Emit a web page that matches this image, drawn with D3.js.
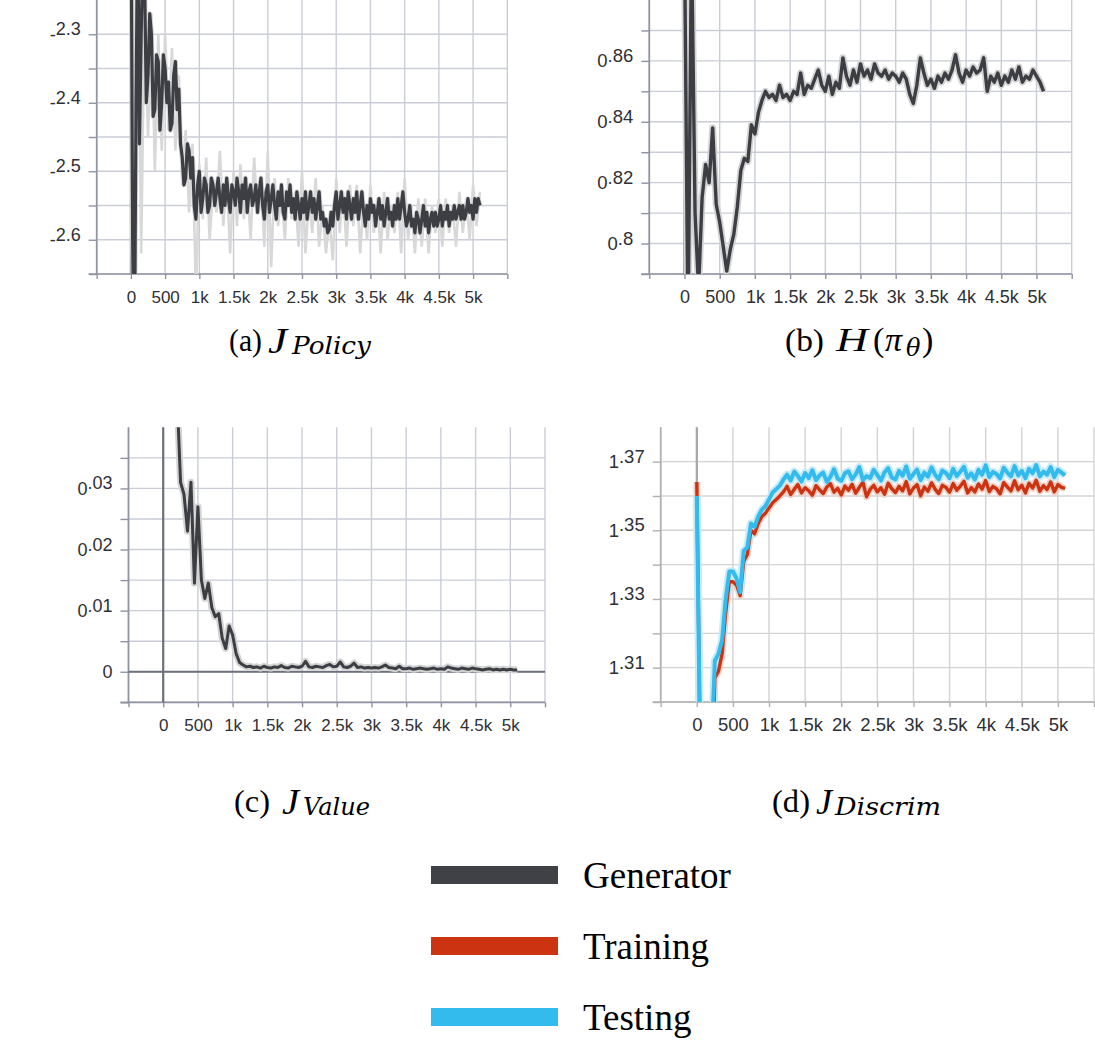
<!DOCTYPE html>
<html>
<head>
<meta charset="utf-8">
<script src="https://cdn.jsdelivr.net/npm/d3@7"></script>
<style>
    body { margin: 0; background: #fff; }
    svg { display: block; }
    .tick-label { font-family: "Liberation Sans", Arial, sans-serif; fill: #2f3035; }
    .serif { font-family: "Liberation Serif", "Times New Roman", serif; fill: #000; }
    .math-sub { font-family: "DejaVu Serif", serif; font-style: italic; fill: #000; }
</style>
</head>
<body>
<svg id="chart" width="1095" height="1062"></svg>
<script>
// training steps: most curves sampled every 50 steps, the policy loss every 25
var steps50 = d3.range(0, 5101, 50);
var steps25 = d3.range(0, 5101, 25);

var xTicks = [-500, 0, 500, 1000, 1500, 2000, 2500, 3000, 3500, 4000, 4500, 5000, 5500];
var xTickLabels = ['', '0', '500', '1k', '1.5k', '2k', '2.5k', '3k', '3.5k', '4k', '4.5k', '5k', ''];

// (a) J_Policy
var yTicksA = [-2.65, -2.6, -2.55, -2.5, -2.45, -2.4, -2.35, -2.3];
var yLabelsA = ['', '-2.6', '', '-2.5', '', '-2.4', '', '-2.3'];
var policySmooth = [
    -2.05, -2.60, -2.80, -2.40, -2.12, -2.46, -2.30, -2.18, -2.22, -2.40, -2.36, -2.27, -2.30, -2.42, -2.41, -2.33, -2.34, -2.44, -2.40, -2.33,
    -2.35, -2.40, -2.37, -2.44, -2.43, -2.36, -2.34, -2.41, -2.38, -2.46, -2.48, -2.52, -2.51, -2.46, -2.47, -2.51, -2.48, -2.55, -2.57, -2.52,
    -2.50, -2.56, -2.54, -2.51, -2.52, -2.56, -2.55, -2.51, -2.52, -2.55, -2.53, -2.51, -2.54, -2.56, -2.52, -2.55, -2.51, -2.54, -2.56, -2.52,
    -2.53, -2.55, -2.51, -2.53, -2.56, -2.52, -2.54, -2.51, -2.56, -2.53, -2.52, -2.55, -2.54, -2.52, -2.56, -2.53, -2.51, -2.55, -2.57, -2.53,
    -2.52, -2.56, -2.54, -2.52, -2.55, -2.57, -2.53, -2.55, -2.52, -2.56, -2.57, -2.53, -2.55, -2.52, -2.56, -2.54, -2.57, -2.53, -2.55, -2.57,
    -2.54, -2.56, -2.53, -2.57, -2.55, -2.53, -2.56, -2.54, -2.57, -2.55, -2.53, -2.57, -2.56, -2.58, -2.57, -2.59, -2.585, -2.56, -2.58, -2.55,
    -2.53, -2.57, -2.55, -2.53, -2.56, -2.54, -2.57, -2.53, -2.55, -2.57, -2.54, -2.56, -2.53, -2.57, -2.55, -2.53, -2.56, -2.58, -2.55, -2.57,
    -2.54, -2.56, -2.55, -2.58, -2.56, -2.54, -2.57, -2.55, -2.58, -2.56, -2.54, -2.57, -2.56, -2.58, -2.55, -2.57, -2.54, -2.57, -2.55, -2.53,
    -2.56, -2.58, -2.57, -2.55, -2.58, -2.57, -2.59, -2.56, -2.57, -2.59, -2.57, -2.55, -2.58, -2.56, -2.59, -2.57, -2.56, -2.58, -2.56, -2.58,
    -2.57, -2.55, -2.58, -2.56, -2.57, -2.55, -2.58, -2.56, -2.57, -2.55, -2.57, -2.56, -2.55, -2.57, -2.55, -2.57, -2.56, -2.54, -2.56, -2.55,
    -2.57, -2.54, -2.56, -2.54, -2.55
];
var policyRaw = [
    -2.05, -2.80, -2.10, -2.62, -2.25, -2.45, -2.27, -2.50, -2.30, -2.47,
    -2.30, -2.44, -2.32, -2.47, -2.36, -2.52, -2.44, -2.56, -2.46, -2.68,
    -2.49, -2.57, -2.48, -2.60, -2.52, -2.56, -2.47, -2.58, -2.51, -2.62,
    -2.50, -2.58, -2.49, -2.57, -2.52, -2.60, -2.48, -2.56, -2.51, -2.61,
    -2.47, -2.64, -2.51, -2.58, -2.53, -2.60, -2.51, -2.57, -2.53, -2.61,
    -2.50, -2.62, -2.54, -2.59, -2.51, -2.61, -2.55, -2.62, -2.57, -2.63,
    -2.51, -2.59, -2.53, -2.61, -2.52, -2.58, -2.52, -2.62, -2.54, -2.60,
    -2.52, -2.59, -2.54, -2.62, -2.53, -2.60, -2.55, -2.59, -2.53, -2.62,
    -2.51, -2.60, -2.55, -2.62, -2.54, -2.61, -2.54, -2.62, -2.55, -2.59,
    -2.54, -2.61, -2.54, -2.59, -2.55, -2.61, -2.53, -2.59, -2.54, -2.60,
    -2.52, -2.58, -2.53
];

// (b) H(pi_theta)
var yTicksB = [0.79, 0.80, 0.81, 0.82, 0.83, 0.84, 0.85, 0.86, 0.87];
var yLabelsB = ['', '0.8', '', '0.82', '', '0.84', '', '0.86', ''];
var entropySmooth = [
    0.90, 0.77, 0.90, 0.81, 0.785, 0.815, 0.826, 0.820, 0.838, 0.813,
    0.807, 0.799, 0.791, 0.798, 0.803, 0.812, 0.824, 0.828, 0.827, 0.839,
    0.836, 0.843, 0.847, 0.850, 0.848, 0.849, 0.847, 0.852, 0.848, 0.849,
    0.847, 0.850, 0.849, 0.856, 0.849, 0.852, 0.851, 0.854, 0.857, 0.852,
    0.850, 0.855, 0.849, 0.853, 0.851, 0.861, 0.855, 0.852, 0.857, 0.853,
    0.859, 0.855, 0.857, 0.854, 0.859, 0.856, 0.855, 0.857, 0.854, 0.856,
    0.855, 0.853, 0.856, 0.854, 0.849, 0.846, 0.852, 0.861, 0.856, 0.852,
    0.854, 0.851, 0.855, 0.853, 0.856, 0.854, 0.857, 0.862, 0.856, 0.853,
    0.857, 0.855, 0.858, 0.856, 0.857, 0.861, 0.850, 0.855, 0.853, 0.856,
    0.852, 0.855, 0.853, 0.857, 0.854, 0.858, 0.853, 0.855, 0.854, 0.857,
    0.855, 0.853, 0.850
];

// (c) J_Value
var yTicksC = [-0.005, 0, 0.005, 0.01, 0.015, 0.02, 0.025, 0.03, 0.035];
var yLabelsC = ['', '0', '', '0.01', '', '0.02', '', '0.03', ''];
var valueSmooth = [
    0.070, 0.066, 0.060, 0.053, 0.045, 0.031, 0.029, 0.023, 0.031, 0.0145,
    0.027, 0.015, 0.012, 0.0145, 0.0105, 0.0090, 0.0095, 0.0055, 0.0038, 0.0075,
    0.0060, 0.0030, 0.0015, 0.0011, 0.0008, 0.0009, 0.0007, 0.0008, 0.0006, 0.0009,
    0.0007, 0.0006, 0.0008, 0.0007, 0.0010, 0.0007, 0.0006, 0.0009, 0.0008, 0.0007,
    0.0009, 0.0017, 0.0008, 0.0007, 0.0009, 0.0008, 0.0007, 0.0010, 0.0012, 0.0008,
    0.0009, 0.0016, 0.0008, 0.0007, 0.0009, 0.0014, 0.0007, 0.0008, 0.0006, 0.0007,
    0.0006, 0.0007, 0.0006, 0.0008, 0.0011, 0.0007, 0.0006, 0.0005, 0.0009, 0.0005,
    0.0005, 0.0006, 0.0004, 0.0005, 0.0006, 0.0005, 0.0004, 0.0005, 0.0006, 0.0004,
    0.0005, 0.0004, 0.0008, 0.0006, 0.0005, 0.0004, 0.0006, 0.0005, 0.0004, 0.0006,
    0.0005, 0.0004, 0.0003, 0.0004, 0.0005, 0.0003, 0.0004, 0.0003, 0.0004, 0.0003,
    0.0004, 0.0003, 0.0003
];

// (d) J_Discrim
var yTicksD = [1.30, 1.31, 1.32, 1.33, 1.34, 1.35, 1.36, 1.37];
var yLabelsD = ['', '1.31', '', '1.33', '', '1.35', '', '1.37'];
var discrimTraining = [
    1.3641, 1.28, 1.27, 1.27, 1.27, 1.307, 1.309, 1.314, 1.326, 1.335,
    1.335, 1.334, 1.331, 1.341, 1.343, 1.350, 1.349, 1.352, 1.354, 1.355,
    1.3565, 1.358, 1.359, 1.360,
    1.3612, 1.3628, 1.3604, 1.3620, 1.3633, 1.3609, 1.3624, 1.3615, 1.3602, 1.3630,
    1.3618, 1.3607, 1.3626, 1.3636, 1.3611, 1.3622, 1.3603, 1.3629, 1.3617, 1.3634,
    1.3608, 1.3625, 1.3640, 1.3598, 1.3619, 1.3631, 1.3612, 1.3624, 1.3605, 1.3637,
    1.3621, 1.3610, 1.3628, 1.3615, 1.3642, 1.3606, 1.3623, 1.3633, 1.3601, 1.3626,
    1.3614, 1.3638, 1.3620, 1.3607, 1.3631, 1.3625, 1.3611, 1.3636, 1.3617, 1.3629,
    1.3643, 1.3609, 1.3624, 1.3612, 1.3635, 1.3620, 1.3645, 1.3613, 1.3628, 1.3621,
    1.3606, 1.3639, 1.3626, 1.3615, 1.3644, 1.3618, 1.3631, 1.3609, 1.3637, 1.3623,
    1.3646, 1.3614, 1.3630, 1.3619, 1.3641, 1.3612, 1.3633, 1.3625, 1.3622
];
var discrimTesting = [
    1.360, 1.28, 1.27, 1.27, 1.286, 1.312, 1.314, 1.318, 1.330, 1.338,
    1.338, 1.336, 1.332, 1.344, 1.345, 1.352, 1.351, 1.354, 1.356, 1.357,
    1.359, 1.361, 1.362, 1.363,
    1.3648, 1.3662, 1.3645, 1.3671, 1.3658, 1.3642, 1.3667, 1.3652, 1.3675, 1.3646,
    1.3660, 1.3668, 1.3641, 1.3656, 1.3678, 1.3651, 1.3644, 1.3666, 1.3672, 1.3649,
    1.3663, 1.3684, 1.3647, 1.3658, 1.3652, 1.3676, 1.3661, 1.3645, 1.3669, 1.3681,
    1.3654, 1.3648, 1.3673, 1.3659, 1.3686, 1.3650, 1.3664, 1.3677, 1.3646, 1.3668,
    1.3656, 1.3683, 1.3662, 1.3649, 1.3674, 1.3667, 1.3652, 1.3679, 1.3658, 1.3671,
    1.3685, 1.3653, 1.3666, 1.3648, 1.3676, 1.3662, 1.3689, 1.3655, 1.3670, 1.3664,
    1.3651, 1.3682, 1.3668, 1.3657, 1.3687, 1.3660, 1.3673, 1.3652, 1.3679, 1.3666,
    1.3690, 1.3657, 1.3671, 1.3662, 1.3684, 1.3655, 1.3676, 1.3668, 1.3660
];

var legendNames = ['Generator', 'Training', 'Testing'];
var legendColors = ['#404146', '#cc3311', '#33bbee'];

var svg = d3.select("#chart");
var defs = svg.append("defs");

function drawPanel(p) {
    var x = d3.scaleLinear().domain([-500, 5500]).range([p.left, p.right]),
        y = d3.scaleLinear().domain(p.yDomain).range([p.bottom, p.top]);
    var g = svg.append("g");

    // grid
    g.selectAll(".vgrid").data(xTicks).enter().append("line")
        .attr("x1", function (d) { return x(d); })
        .attr("x2", function (d) { return x(d); })
        .attr("y1", p.top)
        .attr("y2", p.bottom)
        .attr("stroke", p.grid)
        .attr("stroke-width", 1.4);
    g.selectAll(".hgrid").data(p.yTicks).enter().append("line")
        .attr("x1", p.left)
        .attr("x2", p.right)
        .attr("y1", function (d) { return y(d); })
        .attr("y2", function (d) { return y(d); })
        .attr("stroke", p.grid)
        .attr("stroke-width", 1.4);

    var xAxis = d3.axisBottom(x)
        .tickValues(xTicks)
        .tickSize(5)
        .tickFormat(function (d, i) { return xTickLabels[i]; });
    var xg = g.append("g")
        .attr("transform", "translate(0," + p.bottom + ")")
        .call(xAxis);
    xg.select(".domain").remove();
    xg.selectAll("line").attr("stroke", p.axis).attr("stroke-width", 1.4);
    xg.selectAll("text")
        .attr("class", "tick-label")
        .attr("y", 29)
        .attr("dy", null)
        .style("font-size", p.xFont + "px")
        .attr("font-family", null)
        .attr("fill", null);

    var yAxis = d3.axisLeft(y).tickValues(p.yTicks).tickSize(8).tickFormat("");
    var yg = g.append("g")
        .attr("transform", "translate(" + p.left + ",0)")
        .call(yAxis);
    yg.select(".domain").remove();
    yg.selectAll("line").attr("stroke", p.axis).attr("stroke-width", 1.4);

    // tick labels: first character on the grid line, the rest raised
    p.yTicks.forEach(function (d, i) {
        var label = p.yLabels[i];
        if (!label) return;
        var t = g.append("text")
            .attr("class", "tick-label")
            .attr("text-anchor", "end")
            .attr("x", p.left - 16)
            .attr("y", y(d) + 6.5)
            .style("font-size", p.yFont + "px");
        t.append("tspan").text(label.charAt(0));
        if (label.length > 1) {
            t.append("tspan").attr("dy", -5.5).text(label.slice(1));
        }
    });

    // axis lines
    g.append("line")
        .attr("x1", p.left).attr("x2", p.left)
        .attr("y1", p.top).attr("y2", p.bottom)
        .attr("stroke", p.axis).attr("stroke-width", 1.7);
    g.append("line")
        .attr("x1", p.left - 8).attr("x2", p.right)
        .attr("y1", p.bottom).attr("y2", p.bottom)
        .attr("stroke", p.axis).attr("stroke-width", 1.7);
    g.append("line")
        .attr("x1", x(0)).attr("x2", x(0))
        .attr("y1", p.top).attr("y2", p.bottom)
        .attr("stroke", p.zero).attr("stroke-width", 2.2);
    if (p.yDomain[0] < 0 && p.yDomain[1] > 0) {
        g.append("line")
            .attr("x1", p.left).attr("x2", p.right)
            .attr("y1", y(0)).attr("y2", y(0))
            .attr("stroke", p.zero).attr("stroke-width", 2.2);
    }

    defs.append("clipPath").attr("id", "clip-" + p.id)
        .append("rect")
        .attr("x", p.left).attr("y", p.top)
        .attr("width", p.right - p.left).attr("height", p.bottom - p.top);

    function lineFor(stepList) {
        return d3.line()
            .x(function (d, i) { return x(stepList[i]); })
            .y(function (d) { return y(d); });
    }

    var plot = g.append("g").attr("clip-path", "url(#clip-" + p.id + ")");
    p.series.forEach(function (s) {
        if (s.raw) {
            plot.append("path")
                .attr("d", lineFor(steps50)(s.raw))
                .attr("stroke", s.light)
                .attr("stroke-width", 2.6)
                .attr("fill", "none");
        }
        plot.append("path")
            .attr("d", lineFor(s.steps)(s.values))
            .attr("stroke", s.light)
            .attr("stroke-width", s.halo)
            .attr("stroke-linejoin", "round")
            .attr("fill", "none");
    });
    p.series.forEach(function (s) {
        plot.append("path")
            .attr("d", lineFor(s.steps)(s.values))
            .attr("stroke", s.color)
            .attr("stroke-width", s.width)
            .attr("stroke-linejoin", "round")
            .attr("fill", "none");
    });
}

var tbGrid = "#cacdd7", tbAxis = "#8f94a3", tbZero = "#767a88";

drawPanel({
    id: "a", left: 96.7, right: 507.3, top: 0, bottom: 274,
    yDomain: [-2.65, -2.25], yTicks: yTicksA, yLabels: yLabelsA,
    grid: tbGrid, axis: tbAxis, zero: tbZero,
    xFont: 17, yFont: 18,
    series: [{ values: policySmooth, steps: steps25, raw: policyRaw, color: "#3c3e44", light: "#d8d8d8", width: 3.2, halo: 5 }]
});
drawPanel({
    id: "b", left: 649.3, right: 1071.7, top: 0, bottom: 274,
    yDomain: [0.79, 0.88], yTicks: yTicksB, yLabels: yLabelsB,
    grid: tbGrid, axis: tbAxis, zero: tbZero,
    xFont: 18, yFont: 18.5,
    series: [{ values: entropySmooth, steps: steps50, color: "#3c3e44", light: "#d4d4d4", width: 3.4, halo: 7 }]
});
drawPanel({
    id: "c", left: 128.5, right: 545, top: 427.3, bottom: 702.3,
    yDomain: [-0.005, 0.04], yTicks: yTicksC, yLabels: yLabelsC,
    grid: tbGrid, axis: tbAxis, zero: "#6c707d",
    xFont: 17, yFont: 18,
    series: [{ values: valueSmooth, steps: steps50, color: "#3c3e44", light: "#d4d4d4", width: 3, halo: 7 }]
});
drawPanel({
    id: "d", left: 660.7, right: 1094, top: 427.3, bottom: 702,
    yDomain: [1.30, 1.38], yTicks: yTicksD, yLabels: yLabelsD,
    grid: "#d3d3d3", axis: "#b0b0b0", zero: "#a6a6a6",
    xFont: 18.5, yFont: 18.5,
    series: [
        { values: discrimTraining, steps: steps50, color: "#cc3311", light: "#f2cfc4", width: 3.4, halo: 7 },
        { values: discrimTesting, steps: steps50, color: "#33bbee", light: "#c6eaf8", width: 4, halo: 8 }
    ]
});

// captions: each piece placed where it sits in the figure
function caption(parts) {
    parts.forEach(function (pt) {
        var t = svg.append("text")
            .attr("class", pt.sub ? "math-sub" : "serif")
            .attr("x", pt.x)
            .attr("y", pt.y)
            .style("font-size", pt.size + "px")
            .text(pt.text);
        if (pt.italic) t.style("font-style", "italic");
        if (pt.len) t.attr("textLength", pt.len).attr("lengthAdjust", "spacingAndGlyphs");
    });
}
caption([
    { text: "(a)", x: 229, y: 351, size: 32, len: 33 },
    { text: "J", x: 268, y: 353, size: 36, italic: true, len: 19 },
    { text: "Policy", x: 292, y: 354, size: 25, sub: true, len: 79 }
]);
caption([
    { text: "(b)", x: 785, y: 351, size: 32, len: 39 },
    { text: "H", x: 836, y: 351, size: 34, italic: true, len: 32 },
    { text: "(", x: 873, y: 351, size: 34 },
    { text: "π", x: 885, y: 351, size: 34, italic: true },
    { text: "θ", x: 906, y: 356, size: 24, sub: true },
    { text: ")", x: 922, y: 351, size: 34 }
]);
caption([
    { text: "(c)", x: 234, y: 812, size: 32, len: 36 },
    { text: "J", x: 282, y: 814, size: 36, italic: true, len: 17 },
    { text: "Value", x: 303, y: 815, size: 25, sub: true, len: 67 }
]);
caption([
    { text: "(d)", x: 772, y: 812, size: 32, len: 38 },
    { text: "J", x: 816, y: 814, size: 36, italic: true, len: 16 },
    { text: "Discrim", x: 835, y: 815, size: 25, sub: true, len: 106 }
]);

// legend
var legendY = d3.scalePoint().domain(legendNames).range([866, 1008]);
var legend = svg.append("g");
legend.selectAll("rect").data(legendNames).enter().append("rect")
    .attr("x", 431)
    .attr("y", function (d) { return legendY(d); })
    .attr("width", 127)
    .attr("height", 18)
    .attr("fill", function (d, i) { return legendColors[i]; });
legend.selectAll("text").data(legendNames).enter().append("text")
    .attr("class", "serif")
    .attr("x", 583)
    .attr("y", function (d) { return legendY(d) + 22; })
    .style("font-size", "37px")
    .text(function (d) { return d; });
</script>
</body>
</html>
